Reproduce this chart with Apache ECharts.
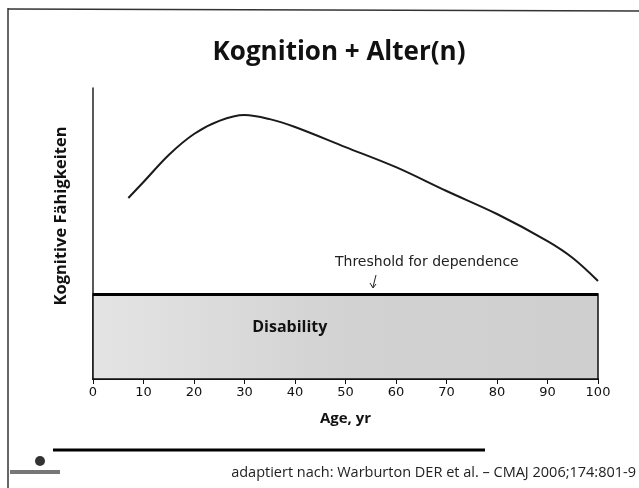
<!DOCTYPE html>
<html>
<head>
<meta charset="utf-8">
<script src="https://cdn.jsdelivr.net/npm/echarts@6/dist/echarts.min.js"></script>
<style>
  html, body { margin: 0; padding: 0; background: #fff; }
  #chart { width: 639px; height: 488px; }
</style>
</head>
<body>
<div id="chart"></div>
<script>
// Alter (Jahre) und kognitive Fähigkeiten (relative Einheiten)
const ages = [7, 10, 15, 20, 25, 30, 35, 40, 50, 60, 70, 80, 90, 95, 100];
const cognition = [62.2, 67.7, 77.0, 84.2, 88.7, 90.7, 89.3, 86.6, 79.7, 72.8, 64.6, 56.7, 47.4, 41.6, 33.7];
const threshold = 29.2;
const xTicks = [0, 10, 20, 30, 40, 50, 60, 70, 80, 90, 100];

const chart = echarts.init(document.getElementById('chart'));

const option = {
    backgroundColor: '#fff',
    animation: false,
    title: {
        text: 'Kognition + Alter(n)',
        left: 334,
        top: 35,
        textAlign: 'center',
        textStyle: {
            fontFamily: 'Open Sans',
            fontSize: 26,
            fontWeight: 'bold',
            color: '#111'
        }
    },
    grid: { left: 93, right: 41, top: 88, bottom: 109 },
    xAxis: {
        type: 'value',
        min: 0,
        max: 100,
        interval: 10,
        name: 'Age, yr',
        nameLocation: 'middle',
        nameGap: 32,
        nameTextStyle: {
            fontFamily: 'Open Sans',
            fontSize: 15,
            fontWeight: 'bold',
            color: '#111'
        },
        axisLine: { lineStyle: { color: '#111', width: 2 } },
        axisTick: { show: true, length: 5, lineStyle: { color: '#111', width: 1 } },
        axisLabel: {
            fontFamily: 'DejaVu Sans',
            fontSize: 13,
            color: '#111',
            margin: 7,
            formatter: v => xTicks.includes(v) ? String(v) : ''
        },
        splitLine: { show: false }
    },
    yAxis: {
        type: 'value',
        min: 0,
        max: 100,
        axisLine: { show: true, lineStyle: { color: '#222', width: 1.5 } },
        axisTick: { show: false },
        axisLabel: { show: false },
        splitLine: { show: false }
    },
    series: [{
        type: 'line',
        smooth: 0.35,
        symbol: 'none',
        data: ages.map((a, i) => [a, cognition[i]]),
        lineStyle: { color: '#1a1a1a', width: 2 },
        markArea: {
            silent: true,
            itemStyle: {
                color: {
                    type: 'linear', x: 0, y: 0, x2: 1, y2: 0,
                    colorStops: [
                        { offset: 0, color: '#e4e4e4' },
                        { offset: 0.5, color: '#d2d2d2' },
                        { offset: 1, color: '#cfcfcf' }
                    ]
                },
                borderColor: '#111',
                borderWidth: 1.5
            },
            label: {
                show: true,
                position: ['39%', '40%'],
                align: 'center',
                verticalAlign: 'middle',
                fontFamily: 'Open Sans',
                fontSize: 16,
                fontWeight: 'bold',
                color: '#111'
            },
            data: [[
                { name: 'Disability', coord: [0, 0] },
                { coord: [100, threshold] }
            ]]
        },
        markLine: {
            silent: true,
            symbol: 'none',
            lineStyle: { color: '#000', width: 3, type: 'solid' },
            label: { show: false },
            data: [{ yAxis: threshold }]
        }
    }],
    graphic: [
        // Rahmen
        { type: 'line', shape: { x1: 8, y1: 8, x2: 8, y2: 488 }, style: { stroke: '#333', lineWidth: 1.5 } },
        { type: 'line', shape: { x1: 8, y1: 9, x2: 639, y2: 11 }, style: { stroke: '#333', lineWidth: 1.5 } },
        // Y-Achsentitel
        {
            type: 'text', x: 61, y: 216, rotation: Math.PI / 2,
            style: {
                text: 'Kognitive Fähigkeiten', font: 'bold 16.5px "Open Sans"', fill: '#111',
                align: 'center', verticalAlign: 'middle'
            }
        },
        // Annotation
        {
            type: 'text', left: 335, top: 255,
            style: { text: 'Threshold for dependence', font: '14px "DejaVu Sans"', fill: '#222' }
        },
        { type: 'line', shape: { x1: 376, y1: 275, x2: 373, y2: 287 }, style: { stroke: '#222', lineWidth: 1 } },
        { type: 'polyline', shape: { points: [[370, 283], [373, 288], [376, 284]] }, style: { stroke: '#222', lineWidth: 1, fill: null } },
        // Fußzeile
        { type: 'line', shape: { x1: 53, y1: 450, x2: 485, y2: 450 }, style: { stroke: '#000', lineWidth: 3 } },
        {
            type: 'text', right: 3, top: 465,
            style: { text: 'adaptiert nach: Warburton DER et al. \u2013 CMAJ 2006;174:801-9', font: '14.5px "Open Sans"', fill: '#222' }
        },
        { type: 'circle', shape: { cx: 40, cy: 461, r: 5 }, style: { fill: '#333' } },
        { type: 'rect', shape: { x: 10, y: 470, width: 50, height: 4 }, style: { fill: '#777' } }
    ]
};

chart.setOption(option);
</script>
</body>
</html>
